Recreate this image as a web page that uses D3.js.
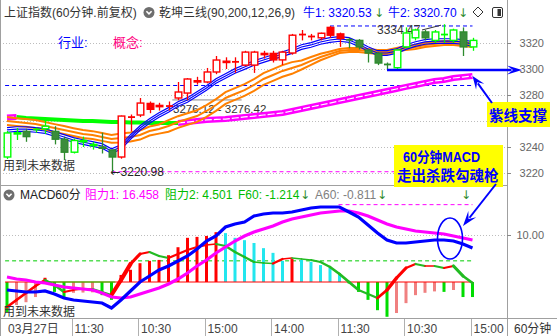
<!DOCTYPE html>
<html><head><meta charset="utf-8">
<script src="https://cdn.jsdelivr.net/npm/d3@7"></script>
<style>
html,body{margin:0;padding:0;background:#fff;}
svg{display:block;font-family:"Liberation Sans","Noto Sans CJK SC",sans-serif;}
</style></head><body>
<svg id="c" width="557" height="336"></svg>
<script>
// ---------- data ----------
const candleOpen=[3232.3,3250.0,3252.0,3253.0,3254.0,3252.0,3246.0,3236.0,3244.0,3241.0,3240.0,3237.7,3232.3,3262.5,3264.6,3273.5,3271.0,3271.0,3277.7,3281.5,3290.0,3290.0,3297.7,3305.0,3305.0,3303.0,3303.0,3311.0,3312.0,3307.0,3312.3,3326.0,3324.5,3324.0,3332.0,3327.0,3323.0,3322.0,3314.6,3312.0,3304.0,3301.0,3317.0,3324.0,3328.5,3322.0,3326.0,3322.0,3328.5,3317.0];
const candleHigh=[3252.3,3254.6,3254.0,3255.0,3262.0,3256.0,3248.0,3246.5,3248.0,3244.0,3251.0,3238.0,3264.2,3265.0,3277.7,3275.0,3274.0,3275.0,3290.0,3293.0,3294.0,3300.8,3310.0,3309.0,3309.0,3314.0,3314.0,3314.0,3314.0,3314.0,3327.0,3330.0,3327.0,3328.0,3333.1,3328.0,3324.0,3323.0,3315.0,3313.0,3305.0,3315.0,3332.0,3331.0,3330.0,3330.0,3334.47,3331.0,3332.0,3324.0];
const candleLow=[3230.8,3245.4,3244.0,3251.0,3250.0,3242.0,3230.0,3235.0,3240.0,3238.0,3235.0,3220.98,3231.0,3252.0,3263.0,3266.0,3268.0,3268.0,3276.0,3276.0,3288.0,3289.0,3296.0,3300.0,3297.0,3302.0,3297.0,3308.0,3305.0,3303.0,3311.0,3322.0,3322.0,3322.0,3324.0,3317.0,3316.0,3315.0,3305.0,3303.0,3299.2,3300.0,3316.0,3322.0,3322.0,3320.0,3320.0,3320.0,3310.0,3314.0];
const candleClose=[3250.8,3251.0,3248.0,3253.5,3256.0,3246.0,3236.0,3245.0,3245.0,3242.0,3239.0,3232.3,3263.8,3263.0,3273.8,3269.0,3272.0,3271.5,3282.3,3292.3,3291.0,3297.7,3306.9,3306.0,3305.5,3313.0,3313.0,3312.0,3307.0,3313.0,3326.0,3326.5,3325.0,3327.5,3326.0,3323.5,3322.5,3317.0,3312.3,3304.6,3303.5,3314.6,3327.7,3330.0,3324.0,3328.5,3326.5,3330.0,3317.0,3322.0];
const candleTone=("gggggggggggg"+"rrrrrrrrrrrrrrrrrrrrrrrr"+"gggggggggggggg").split("");
const blueMA=[3253.1,3253.8,3253.8,3253.1,3252.3,3250.0,3247.7,3245.4,3243.8,3242.3,3240.8,3236.9,3240.0,3247.7,3254.6,3260.0,3264.6,3268.5,3273.1,3276.2,3280.8,3285.4,3290.8,3294.6,3298.5,3301.5,3304.6,3306.9,3309.2,3311.5,3313.8,3316.9,3318.5,3320.8,3322.3,3323.1,3322.3,3319.2,3315.4,3312.3,3312.3,3313.8,3316.9,3319.2,3320.8,3321.5,3321.5,3321.5,3320.8,3319.2];
const orangeMA=[3260.0,3259.2,3258.5,3257.7,3256.2,3254.6,3253.1,3251.5,3250.0,3249.2,3247.7,3246.2,3246.9,3247.7,3249.2,3252.3,3253.8,3256.2,3259.2,3261.5,3263.8,3267.7,3272.3,3277.7,3280.8,3283.8,3287.7,3292.3,3295.4,3298.5,3300.8,3303.1,3306.2,3309.2,3311.5,3313.8,3314.6,3314.6,3313.8,3313.1,3313.1,3314.6,3316.2,3316.9,3318.5,3319.2,3320.0,3320.0,3319.2,3318.5];
const orangeSpread=[3,3,3,3,3,3,3,3,3,3,3,3,3.5,3.5,3.5,3.5,3.5,4.5,4.5,4.5,4.5,4.5,4.5,4.5,4.5,4.5,4.5,4.5,4.5,4.5,4.5,3.5,3,2.5,2,1.5,1.5,1.5,1.5,1.5,1.5,1.5,1.5,1.5,1.5,1.5,1.5,1.5,1.5,1.5];
const longMA=[3262.7,3263.1,3262.3,3261.9,3261.5,3261.2,3260.8,3260.4,3260.0,3260.0,3259.6,3259.2,3259.2,3258.8,3258.8,3258.5,3258.5,3258.5,3258.5,3259.2,3260.0,3260.8,3261.2,3261.5,3262.3,3263.1,3263.8,3264.6,3265.4,3266.2,3267.7,3269.2,3270.8,3272.3,3273.8,3275.4,3276.9,3278.5,3280.0,3281.5,3283.1,3284.6,3286.2,3287.7,3289.2,3290.8,3291.5,3293.1,3293.8,3294.6];
const macdDIF=[-1.70,-1.91,-2.13,-2.13,-1.91,-2.55,-3.40,-3.83,-4.04,-4.26,-4.47,-5.53,-3.83,-1.91,0,1.28,2.55,3.40,4.47,5.53,7.02,8.72,9.79,11.70,12.34,12.77,14.04,14.47,14.68,14.68,14.89,15.32,15.74,15.96,15.96,15.96,14.90,13.83,12.13,10.43,8.94,8.30,8.30,8.51,8.72,8.94,8.94,8.72,8.09,7.23];
const macdDEA=[1.06,0.64,0.43,0,-0.21,-0.64,-1.06,-1.28,-1.49,-1.70,-2.34,-3.19,-3.40,-3.19,-2.55,-1.91,-1.28,-0.43,0.64,1.91,3.40,4.68,6.17,7.45,8.72,9.79,10.64,11.28,11.91,12.77,13.40,13.83,14.26,14.68,14.89,15.11,15.11,14.68,14.04,13.19,12.34,11.70,11.28,10.85,10.64,10.43,10.21,9.79,9.36,8.94];
const macdHist=[-6.4,-4.9,-4.3,-3.2,0.9,-2.1,-3.2,-2.3,-2.25,-2.2,-2.8,-3.8,1.5,2.6,4.0,4.5,4.7,5.7,7.4,9.4,9.6,9.8,10.6,10.4,9.4,8.9,8.3,7.2,6.2,4.5,4.9,4.7,4.3,3.6,3.0,1.5,-0.3,-2.1,-3.8,-6.0,-7.4,-6.6,-4.5,-2.8,-2.3,-2.0,-2.1,-1.7,-3.2,-3.2];
const ribbon=[-5.32,-3.83,-2.34,-0.85,0.43,-0.64,-2.13,-1.70,-1.49,-1.49,-2.13,-2.77,0.43,3.83,5.96,6.38,5.53,5.11,5.96,6.81,7.45,7.87,8.09,7.66,6.38,5.32,4.26,4.04,3.94,4.89,5.11,4.89,4.68,4.26,3.19,1.70,0,-1.70,-2.55,-3.40,-1.70,0.85,2.98,3.83,3.40,3.40,2.98,3.40,1.28,-0.21];
const priceGrid=[3220,3240,3260,3280,3300,3320];
const priceLabels=[3220,3240,3280,3300,3320];
const macdLabels=[10];
const timeLabels=["03月27日","11:30","10:30","15:00","14:00","11:30","10:30","15:00"];
const timeTickIdx=[-0.2,6.8,13.8,20.8,27.8,34.8,41.8,48.8];
const levelBlue=3287.3, levelHigh=3333.1, levelHighFrom=34, levelLow=3220.98, levelLowFrom=11;
const gapLevel=3276.2, gapFrom=17.4, gapTo=24.7;
const resist1=16.458, resist1From=34.9, resist2=4.501;
const supportLow=3299.2, supportFrom=40;

// ---------- setup ----------
const svg=d3.select('#c');
const n=candleClose.length;
const AX=507;
const ARROWFONT='"DejaVu Sans",sans-serif';
const x=d3.scaleLinear().domain([0,n-1]).range([7,472.5]);
const y=d3.scaleLinear().domain([3220,3320]).range([173,43]);
const ym=d3.scaleLinear().domain([0,10]).range([282,235]);
svg.append('rect').attr('width',557).attr('height',336).attr('fill','#fff');

// grid main
svg.append('g').selectAll('line').data(priceGrid).join('line')
  .attr('x1',0).attr('x2',AX).attr('y1',d=>Math.round(y(d))+0.5).attr('y2',d=>Math.round(y(d))+0.5)
  .attr('stroke','#bdbdbd').attr('stroke-dasharray','1,2');
svg.append('line').attr('x1',0).attr('x2',AX).attr('y1',Math.round(ym(10))+0.5).attr('y2',Math.round(ym(10))+0.5)
  .attr('stroke','#bdbdbd').attr('stroke-dasharray','1,2');

// frame lines
const frame=svg.append('g').attr('stroke','#a0a0a0').attr('shape-rendering','crispEdges');
frame.append('line').attr('x1',0.5).attr('x2',0.5).attr('y1',0).attr('y2',336);
frame.append('line').attr('x1',AX+0.5).attr('x2',AX+0.5).attr('y1',0).attr('y2',336);
frame.append('line').attr('x1',0).attr('x2',AX).attr('y1',185.5).attr('y2',185.5);
frame.append('line').attr('x1',0).attr('x2',557).attr('y1',318.5).attr('y2',318.5);

// right axes
const ax1=svg.append('g').attr('transform',`translate(${AX},0)`)
  .call(d3.axisRight(y).tickValues(priceLabels).tickSize(4).tickFormat(d3.format('d')));
const ax2=svg.append('g').attr('transform',`translate(${AX},0)`)
  .call(d3.axisRight(ym).tickValues(macdLabels).tickSize(4).tickFormat(d3.format('.2f')));
[ax1,ax2].forEach(a=>{
  a.select('.domain').remove();
  a.selectAll('line').attr('stroke','#888');
  a.selectAll('text').attr('x',37).attr('text-anchor','end').attr('fill','#666')
   .style('font-size','11px').style('font-family','"Liberation Sans",sans-serif');
});

// bottom axis
const bx=svg.append('g');
bx.selectAll('line').data(timeTickIdx.slice(1)).join('line')
  .attr('x1',d=>Math.round(x(d))+0.5).attr('x2',d=>Math.round(x(d))+0.5).attr('y1',319).attr('y2',336)
  .attr('stroke','#b0b0b0');
bx.selectAll('text').data(timeLabels).join('text')
  .attr('x',(d,i)=>x(timeTickIdx[i])+3).attr('y',333).attr('fill','#444').style('font-size','12px').text(d=>d);
svg.append('text').attr('x',514).attr('y',333).attr('fill','#333').style('font-size','12px').text('60分钟');

// ---------- main panel ----------
const hl=(lv,from,to,color,dash,w)=>svg.append('line')
  .attr('x1',x(from)).attr('x2',x(to)).attr('y1',y(lv)).attr('y2',y(lv))
  .attr('stroke',color).attr('stroke-width',w||1).attr('stroke-dasharray',dash||null);
hl(levelBlue,-0.2,n-1,'#0000ff','4,3');
hl(levelHigh,levelHighFrom,n-1,'#0000ff','4,3');
hl(levelLow,levelLowFrom,n-1,'#ff00ff','4,3');
hl(gapLevel,gapFrom,gapTo,'#888888',null,1);

// texts on main
const T=(tx,xx,yy,col,size,extra)=>{const t=svg.append('text').attr('x',xx).attr('y',yy).attr('fill',col).style('font-size',(size||12)+'px').text(tx);if(extra)extra(t);return t;};
T('3276.12 - 3276.42',173,113,'#333',11.5);
T('行业:',58,47,'#0000ff',13);
T('概念:',113,47,'#ff0080',13);
T('用到未来数据',3,170,'#333',12);
const lowLbl=svg.append('text').attr('x',x(levelLowFrom)-1).attr('y',176).attr('fill','#222').style('font-size','12px');
lowLbl.append('tspan').style('font-family',ARROWFONT).text('←');
lowLbl.append('tspan').text('3220.98');
T('3334.47',377,34,'#333',12);
svg.append('line').attr('x1',422).attr('y1',30).attr('x2',x(46)-3).attr('y2',y(candleHigh[46])+1).attr('stroke','#333');

// long MA (magenta rising / green falling)
function runs(arr,upFn){const out=[];let cur=null;
  for(let i=0;i<arr.length-1;i++){const up=upFn(arr[i],arr[i+1]);
    if(!cur||cur.up!==up){cur={up,idx:[i]};out.push(cur);} cur.idx.push(i+1);}
  return out;}
runs(longMA,(a,b)=>b>a).forEach(r=>{
  const ln=d3.line().x(i=>x(i)).y(i=>y(longMA[i]));
  if(r.up){
    svg.append('path').attr('d',ln(r.idx)).attr('fill','none').attr('stroke','#ff00ff').attr('stroke-width',6);
    svg.append('path').attr('d',ln(r.idx)).attr('fill','none').attr('stroke','#fff').attr('stroke-width',1.2).attr('stroke-dasharray','7,2');
  } else {
    svg.append('path').attr('d',ln(r.idx)).attr('fill','none').attr('stroke','#00ff00').attr('stroke-width',4);
  }
});

// orange triple line
[-1,0,1].forEach(k=>{
  svg.append('path').attr('fill','none').attr('stroke','#ff8000').attr('stroke-width',2)
    .attr('d',d3.line().x((d,i)=>x(i)).y((d,i)=>y(d+k*orangeSpread[i]))(orangeMA));
});
// blue triple line
[-2.3,0,2.3].forEach(off=>{
  svg.append('path').attr('fill','none').attr('stroke','#0000ff').attr('stroke-width',1.2)
    .attr('d',d3.line().x((d,i)=>x(i)).y(d=>y(d)+off)(blueMA));
});

// candles
const cg=svg.append('g');
d3.range(n).forEach(i=>{
  const o=candleOpen[i],c=candleClose[i],h=candleHigh[i],l=candleLow[i];
  const up=c>=o, red=candleTone[i]==='r';
  const col=red?'#ff0000':(up?'#00ff00':'#2e8b2e');
  const cx=Math.round(x(i))+0.5;
  cg.append('line').attr('x1',cx).attr('x2',cx).attr('y1',y(h)).attr('y2',y(l)).attr('stroke',col).attr('stroke-width',1.3);
  if(Math.abs(c-o)<1){
    cg.append('line').attr('x1',cx-3.5).attr('x2',cx+3.5).attr('y1',y(c)).attr('y2',y(c)).attr('stroke',col).attr('stroke-width',1.8);
  } else {
    const top=y(Math.max(o,c)),bot=y(Math.min(o,c));
    cg.append('rect').attr('x',cx-3.3).attr('width',6.6).attr('y',top).attr('height',bot-top)
      .attr('fill',up?'#fff':(red?'#ff0000':'#3c8c3c')).attr('stroke',col).attr('stroke-width',1.4);
  }
});

// ---------- MACD panel ----------
const hm=(v,from,color,dash)=>svg.append('line').attr('x1',x(from)).attr('x2',x(n-1)).attr('y1',ym(v)).attr('y2',ym(v))
  .attr('stroke',color).attr('stroke-dasharray',dash);
hm(resist2,-0.2,'#00cc00','4,3');
hm(resist1,resist1From,'#ff00ff','4,3');

// histogram
svg.append('g').selectAll('rect').data(macdHist).join('rect')
  .attr('x',(d,i)=>x(i)-1.5).attr('width',3)
  .attr('y',d=>Math.min(ym(d),ym(0))).attr('height',d=>Math.abs(ym(d)-ym(0)))
  .attr('fill',(d,i)=>{const p=i>0?macdHist[i-1]:d;
    if(d>=0) return d>=p?'#ff0000':'#22e6ee';
    return d>p?'#f08080':'#00dd00';});
// zero line
svg.append('line').attr('x1',x(-0.2)).attr('x2',x(n-1)).attr('y1',ym(0)).attr('y2',ym(0)).attr('stroke','#ff0000').attr('stroke-width',1.2);
svg.append('line').attr('x1',x(4)).attr('x2',x(11.4)).attr('y1',ym(0)).attr('y2',ym(0)).attr('stroke','#00ee00').attr('stroke-width',1.2);

// ribbon: segment width grows with the size of the move
d3.range(n-1).forEach(i=>{
  const a=ribbon[i],b=ribbon[i+1],up=b>=a;
  svg.append('line').attr('x1',x(i)).attr('y1',ym(a)).attr('x2',x(i+1)).attr('y2',ym(b))
    .attr('stroke',up?'#ff0000':'#22bb22').attr('stroke-linecap','round')
    .attr('stroke-width',Math.min(5,1.5+Math.abs(b-a)*0.8));
});
svg.append('path').attr('fill','none').attr('stroke','#ff00ff').attr('stroke-width',3.2)
  .attr('d',d3.line().x((d,i)=>x(i)).y(d=>ym(d))(macdDEA));
svg.append('path').attr('fill','none').attr('stroke','#0000ff').attr('stroke-width',3.2)
  .attr('d',d3.line().x((d,i)=>x(i)).y(d=>ym(d))(macdDIF));
T('用到未来数据',3,316,'#333',12);

// ---------- titles ----------
function icon(cx,cy){
  svg.append('circle').attr('cx',cx).attr('cy',cy).attr('r',5.5).attr('fill','#6e6e6e');
  svg.append('path').attr('d',`M${cx-2.6},${cy-1.2}L${cx},${cy+1.4}L${cx+2.6},${cy-1.2}`).attr('fill','none').attr('stroke','#fff').attr('stroke-width',1.6);
}
const ARR=(xx,yy)=>T('↓',xx,yy,'#2e8b2e',12,t=>t.style('font-family',ARROWFONT));
T('上证指数(60分钟.前复权)',4,17,'#333',12);
icon(149,12.5);
T('乾坤三线(90,200,12,26,9)',159,17,'#333',12);
T('牛1: 3320.53',303,17,'#0000ff',12);
ARR(374,17);
T('牛2: 3320.70',388,17,'#0000ff',12);
ARR(458,17);
svg.append('path').attr('d','M478,7L483,12L478,17L473,12Z').attr('fill','none').attr('stroke','#333');
svg.append('rect').attr('x',492.5).attr('y',7.5).attr('width',10).attr('height',10).attr('rx',1.5).attr('fill','none').attr('stroke','#333');
svg.append('rect').attr('x',497.5).attr('y',9).attr('width',3.5).attr('height',7).attr('fill','#333');

icon(9,195);
T('MACD60分',20,199,'#222',12);
T('阻力1: 16.458',85,199,'#ff00ff',12);
T('阻力2: 4.501',165,199,'#00bb00',12);
T('F60: -1.214',238,199,'#00bb00',12);
ARR(300,199);
T('A60: -0.811',315,199,'#808080',12);
ARR(377,199);
ARR(461,199);

// ---------- annotations ----------
function arrow(x1,y1,x2,y2,len,half,w){
  const a=Math.atan2(y2-y1,x2-x1),c=Math.cos(a),s=Math.sin(a);
  svg.append('line').attr('x1',x1).attr('y1',y1).attr('x2',x2-c*len*0.7).attr('y2',y2-s*len*0.7).attr('stroke','#0000ff').attr('stroke-width',w);
  const bx=x2-c*len,by=y2-s*len;
  svg.append('path').attr('d',`M${x2},${y2}L${bx-s*half},${by+c*half}L${x2-c*len*0.6},${y2-s*len*0.6}L${bx+s*half},${by-c*half}Z`).attr('fill','#0000ff');
}
arrow(x(supportFrom),y(supportLow),522,y(supportLow),15,4.5,2.5);

svg.append('rect').attr('x',487).attr('y',102).attr('width',63).attr('height',25).attr('fill','#ffff00');
T('紫线支撑',489,121,'#0000ff',14.5,t=>t.style('font-weight','bold'));
arrow(492,103,x(n-1),y(longMA[n-1]),13,5,2);

svg.append('rect').attr('x',394).attr('y',145).attr('width',109).attr('height',42).attr('fill','#ffff00');
T('60分钟MACD',403,162,'#0000ff',14,t=>t.style('font-weight','bold').attr('textLength',77).attr('lengthAdjust','spacingAndGlyphs'));
T('走出杀跌勾魂枪',397,181,'#0000ff',14.5,t=>t.style('font-weight','bold'));
svg.append('ellipse').attr('cx',450).attr('cy',238.5).attr('rx',12.5).attr('ry',20.5).attr('fill','none').attr('stroke','#0000ff').attr('stroke-width',1.6);
arrow(496,184,463,226,15,5,2);
</script>
</body></html>
